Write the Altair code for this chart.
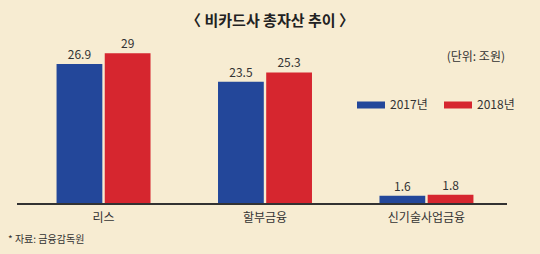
import altair as alt
import pandas as pd

categories = ["리스", "할부금융", "신기술사업금융"]
years = ["2017년", "2018년"]
values_2017 = [26.9, 23.5, 1.6]
values_2018 = [29, 25.3, 1.8]
value_labels_2017 = ["26.9", "23.5", "1.6"]
value_labels_2018 = ["29", "25.3", "1.8"]

rows = []
for c, v, l in zip(categories, values_2017, value_labels_2017):
    rows.append({"cat": c, "year": years[0], "value": v, "label": l})
for c, v, l in zip(categories, values_2018, value_labels_2018):
    rows.append({"cat": c, "year": years[1], "value": v, "label": l})
df = pd.DataFrame(rows)

FONT = "Noto Sans CJK KR"
BG = "#f7ecd2"
W, H = 486, 156

x_enc = alt.X("cat:N", sort=categories, title=None,
              scale=alt.Scale(paddingInner=0.418, paddingOuter=0.214),
              axis=alt.Axis(domain=False, ticks=False, labelAngle=0, labelFontSize=12,
                            labelColor="#333333", labelFont=FONT, labelPadding=8))
xo = alt.XOffset("year:N", sort=years, scale=alt.Scale(paddingInner=0.05))
y_enc = alt.Y("value:Q", scale=alt.Scale(domain=[0, 30]), axis=None)

base = alt.Chart(df)

bars = base.mark_bar().encode(
    x=x_enc, xOffset=xo, y=y_enc,
    color=alt.Color("year:N", sort=years,
                    scale=alt.Scale(domain=years, range=["#23479a", "#d6262f"]),
                    legend=alt.Legend(title=None, orient="none", direction="horizontal",
                                      legendX=335, legendY=43,
                                      symbolType="M-1,-0.25L1,-0.25L1,0.25L-1,0.25Z",
                                      symbolSize=784, symbolStrokeWidth=0,
                                      labelFontSize=12, labelFont=FONT, labelColor="#333333",
                                      labelOffset=5, columnPadding=16)),
)

labels = base.mark_text(dy=-9, fontSize=12, font=FONT, color="#333333").encode(
    x=x_enc, xOffset=xo, y=y_enc, text="label:N"
)

baseline = base.mark_rule(color="#333333", strokeWidth=1.5).encode(
    x=alt.value(-5), x2=alt.value(W - 1), y=alt.value(H)
)

title_text = alt.Chart(pd.DataFrame({"t": ["〈 비카드사 총자산 추이 〉"]})).mark_text(
    fontSize=15, fontWeight="bold", font=FONT, color="#222222", align="center"
).encode(x=alt.value(248), y=alt.value(-27), text="t:N")

unit_text = alt.Chart(pd.DataFrame({"t": ["(단위: 조원)"]})).mark_text(
    fontSize=12, font=FONT, color="#333333", align="right"
).encode(x=alt.value(483), y=alt.value(9), text="t:N")

source_text = alt.Chart(pd.DataFrame({"t": ["* 자료: 금융감독원"]})).mark_text(
    fontSize=10, font=FONT, color="#333333", align="left"
).encode(x=alt.value(-14), y=alt.value(192), text="t:N")

chart = alt.layer(bars, labels, baseline, title_text, unit_text, source_text).properties(
    width=W, height=H,
    autosize=alt.AutoSizeParams(type="none"),
    padding={"left": 22, "top": 48, "right": 32, "bottom": 50},
    background=BG,
).configure_view(stroke=None)

chart.save("out.html", embed_options={"renderer": "svg", "actions": False})
